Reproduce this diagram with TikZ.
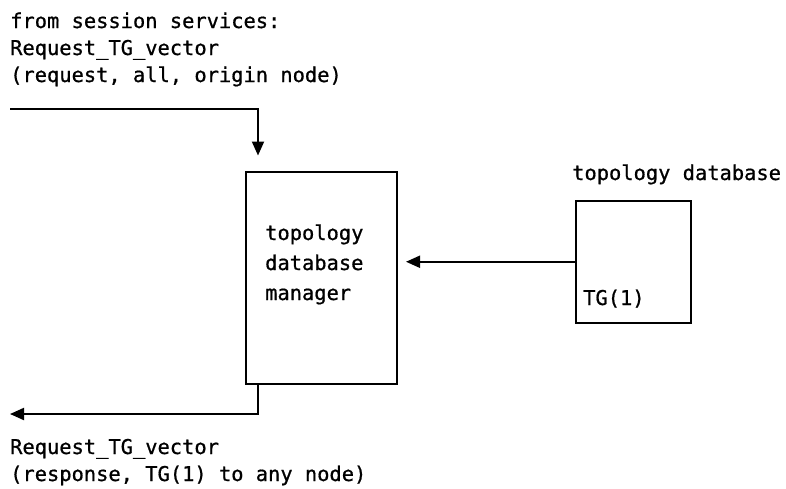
\documentclass[tikz,border=0pt]{standalone}
\usepackage{fontspec}
\setmonofont[FakeBold=0.8]{DejaVu Sans Mono}
\usetikzlibrary{arrows.meta}
\begin{document}
\begin{tikzpicture}[x=1pt,y=-1pt,
  lbl/.style={font=\ttfamily\fontsize{20.4}{30}\selectfont, inner sep=0pt, anchor=base west},
  box/.style={draw, line width=2pt, inner sep=0pt},
  conn/.style={line width=2pt, -{Triangle[length=14pt,width=12pt]}}]
\useasboundingbox (0,0) rectangle (786,488);
% boxes
\node[box, minimum width=151pt, minimum height=212.5pt] (tdm) at (321.5,277.75) {};
\node[box, minimum width=115pt, minimum height=121.5pt] (db) at (633.5,261.75) {};
% texts
\node[lbl] (t1) at (10,28) {from session services:};
\node[lbl] (t2) at (10,55) {Request\_TG\_vector};
\node[lbl] (t3) at (10,82) {(request, all, origin node)};
\node[lbl] (m1) at (265,240) {topology};
\node[lbl] (m2) at (265,270) {database};
\node[lbl] (m3) at (265,300) {manager};
\node[lbl] (dbl) at (572,180) {topology database};
\node[lbl] (tg) at (583,305) {TG(1)};
\node[lbl] (b1) at (10,454) {Request\_TG\_vector};
\node[lbl] (b2) at (10,481) {(response, TG(1) to any node)};
% connectors
\coordinate (vx) at (258,0);
\coordinate (inS) at (10,109);
\coordinate (outE) at (10,414);
\draw[conn, shorten >=15pt] (inS) -| (vx |- tdm.north);
\draw[conn] (vx |- tdm.south) |- (outE);
\draw[conn, shorten >=8pt] (db.west) -- (db.west -| tdm.east);
\end{tikzpicture}
\end{document}
